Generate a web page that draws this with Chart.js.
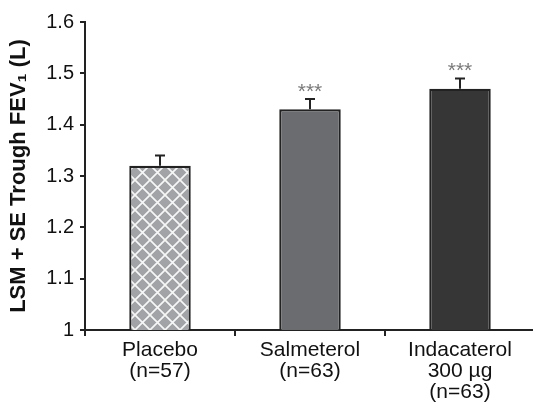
<!DOCTYPE html>
<html>
<head>
<meta charset="utf-8">
<script src="https://cdn.jsdelivr.net/npm/chart.js@4/dist/chart.umd.min.js"></script>
<style>
  html, body { margin: 0; padding: 0; background: #fff; overflow: hidden; }
  #wrap { width: 540px; height: 410px; }
</style>
</head>
<body>
<div id="wrap"><canvas id="fevChart" width="540" height="410"></canvas></div>
<script>
const labels = [['Placebo', '(n=57)'], ['Salmeterol', '(n=63)'], ['Indacaterol', '300 µg', '(n=63)']];
const means = [1.32, 1.43, 1.47];
const stdErr = [0.02, 0.02, 0.02];
const stars = ['', '***', '***'];
const yTicks = [1, 1.1, 1.2, 1.3, 1.4, 1.5, 1.6];

const FONT = '"Liberation Sans", Arial, sans-serif';

// lattice fill for placebo bar
function latticePattern() {
    const s = 15;
    const c = document.createElement('canvas');
    c.width = s; c.height = s;
    const g = c.getContext('2d');
    g.fillStyle = '#a2a3a6';
    g.fillRect(0, 0, s, s);
    g.strokeStyle = 'rgba(255,255,255,0.9)';
    g.lineWidth = 1.7;
    g.beginPath();
    g.moveTo(-1, -1); g.lineTo(s + 1, s + 1);
    g.moveTo(s + 1, -1); g.lineTo(-1, s + 1);
    g.stroke();
    return g.createPattern(c, 'repeat');
}

const errorBars = {
    id: 'errorBars',
    afterDatasetsDraw(chart) {
        const { ctx, scales: { x, y } } = chart;
        ctx.save();
        ctx.strokeStyle = '#222';
        ctx.lineWidth = 2;
        means.forEach((m, i) => {
            const cx = x.getPixelForValue(i);
            const top = y.getPixelForValue(m + stdErr[i]);
            const base = y.getPixelForValue(m);
            ctx.beginPath();
            ctx.moveTo(cx, base);
            ctx.lineTo(cx, top);
            ctx.moveTo(cx - 5, top);
            ctx.lineTo(cx + 5, top);
            ctx.stroke();
            if (stars[i]) {
                ctx.fillStyle = '#7a7a7a';
                ctx.font = '21px ' + FONT;
                ctx.textAlign = 'center';
                ctx.textBaseline = 'alphabetic';
                ctx.fillText(stars[i], cx, top - 1);
            }
        });
        ctx.restore();
    }
};

const ctx = document.getElementById('fevChart').getContext('2d');
const chart = new Chart(ctx, {
    type: 'bar',
    data: {
        labels: labels,
        datasets: [{
            data: means,
            backgroundColor: [latticePattern(), '#6b6c6f', '#363636'],
            borderColor: '#222',
            borderWidth: 2.2,
            borderSkipped: false,
            categoryPercentage: 0.41,
            barPercentage: 1
        }]
    },
    options: {
        responsive: false,
        animation: false,
        layout: { padding: { top: 22, right: 5, left: 0, bottom: 0 } },
        plugins: { legend: { display: false }, tooltip: { enabled: false } },
        scales: {
            x: {
                grid: { display: true, drawOnChartArea: false, offset: true, color: '#222', lineWidth: 2, tickLength: 6 },
                border: { color: '#222', width: 2 },
                ticks: { color: '#111', font: { family: FONT, size: 21, lineHeight: 1.0 }, padding: 4, maxRotation: 0, autoSkip: false },
                afterFit(scale) { scale.height = 80; }
            },
            y: {
                min: 1, max: 1.6,
                afterBuildTicks(scale) { scale.ticks = yTicks.map(v => ({ value: v })); },
                grid: { display: true, drawOnChartArea: false, color: '#222', lineWidth: 2, tickLength: 5 },
                border: { color: '#222', width: 2 },
                ticks: {
                    color: '#111', padding: 6,
                    font: { family: FONT, size: 20 },
                    callback: v => String(Math.round(v * 10) / 10)
                },
                title: {
                    display: true,
                    text: 'LSM + SE Trough FEV\u2081 (L)',
                    color: '#111',
                    font: { family: FONT, size: 22, weight: 'bold' },
                    padding: { top: 6, bottom: 0 }
                },
                afterFit(scale) { scale.width = 85; }
            }
        }
    },
    plugins: [errorBars]
});
</script>
</body>
</html>
